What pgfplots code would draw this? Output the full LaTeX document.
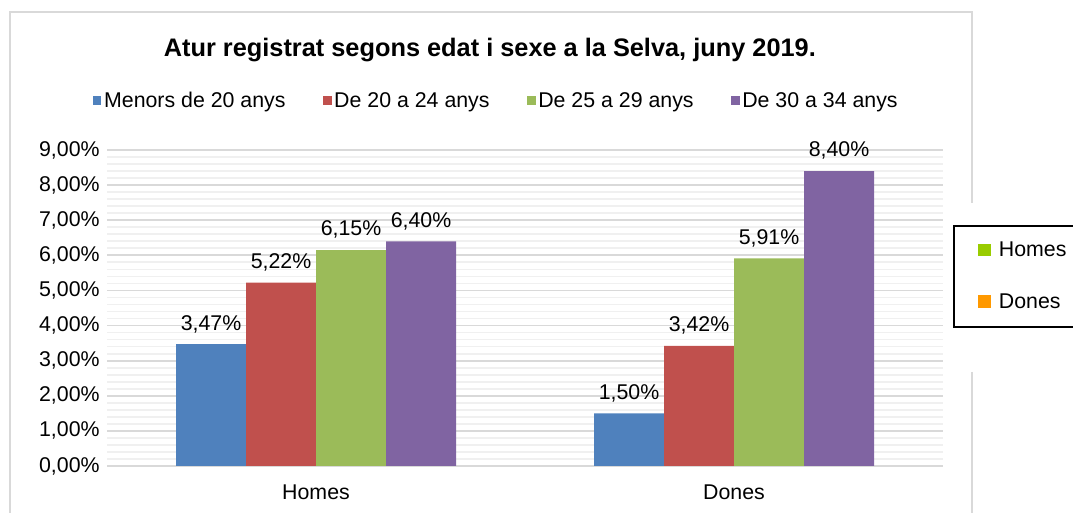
\documentclass[border=0pt]{standalone}
\usepackage{fontspec}
\setmainfont{Liberation Sans}
\usepackage{pgfplots}
\pgfplotsset{compat=1.18}
\definecolor{cBlue}{HTML}{4F81BD}
\definecolor{cRed}{HTML}{C0504D}
\definecolor{cGreen}{HTML}{9BBB59}
\definecolor{cPurple}{HTML}{8064A2}
\definecolor{cLime}{RGB}{153,204,0}
\definecolor{cOrange}{RGB}{255,153,0}
\definecolor{gMaj}{RGB}{217,217,217}
\definecolor{gMin}{RGB}{240,240,240}

\begin{document}
\begin{tikzpicture}
\begin{axis}[
    name=ax,
    scale only axis, width=627pt, height=237pt,
    ybar=0pt, bar width=52.5pt,
    xmin=-0.5, xmax=1.5, ymin=0, ymax=9,
    xtick={0,1}, xticklabels={Homes,Dones},
    ytick={0,1,...,9}, minor y tick num=4,
    ymajorgrids, yminorgrids,
    major grid style={gMaj, line width=1.3pt},
    minor grid style={gMin, line width=1.3pt},
    axis line style={draw=none},
    tick style={draw=none},
    tick label style={font=\fontsize{16}{19}\selectfont},
    /pgf/number format/assume math mode=true,
    yticklabel={\pgfmathprintnumber[fixed,fixed zerofill,precision=2,use comma]{\tick}\%},
    yticklabel style={xshift=-2pt},
    xticklabel style={yshift=-6pt},
    nodes near coords={\pgfmathprintnumber[fixed,fixed zerofill,precision=2,use comma,assume math mode=true]{\pgfplotspointmeta}\%},
    every node near coord/.append style={font=\fontsize{16}{19}\selectfont, text=black, anchor=south, yshift=5pt},
    legend columns=4,
    legend style={at={(0.466,1.155)}, anchor=center, draw=none, fill=none,
        font=\fontsize{16}{19}\selectfont,
        /tikz/every even column/.append style={column sep=26pt}},
    legend image code/.code={\fill[#1] (0pt,-3pt) rectangle (6.5pt,3.5pt);},
    title={\bfseries\fontsize{19}{22}\selectfont Atur registrat segons edat i sexe a la Selva, juny 2019.},
    title style={at={(0.458,1)}, anchor=center, yshift=69pt},
]
\addplot[fill=cBlue, draw=none] coordinates {(0,3.47) (1,1.50)};
\addplot[fill=cRed, draw=none] coordinates {(0,5.22) (1,3.42)};
\addplot[fill=cGreen, draw=none] coordinates {(0,6.15) (1,5.91)};
\addplot[fill=cPurple, draw=none] coordinates {(0,6.40) (1,8.40)};
\legend{Menors de 20 anys, De 20 a 24 anys, De 25 a 29 anys, De 30 a 34 anys}
\end{axis}

% page coordinates: origin at bottom-left of the page, 1px = 0.75pt
\begin{scope}[shift={(ax.south west)}, xshift=-80.25pt, yshift=-35.25pt, x=1pt, y=1pt]
% chart area frame (runs off the bottom)
\draw[line width=1.4pt, gMaj] (7.5,0) -- (7.5,375.75) -- (729,375.75) -- (729,232.5);
\draw[line width=1.4pt, gMaj] (729,105.75) -- (729,0);
% second legend box on the right (runs off the right edge)
\draw[line width=1.3pt, black] (804.75,139.5) -- (715.5,139.5) -- (715.5,215.25) -- (804.75,215.25);
\fill[cLime] (733.5,192.5) rectangle (743,202);
\node[anchor=west, font=\fontsize{16}{19}\selectfont, inner sep=0pt] at (749,197.5) {Homes};
\fill[cOrange] (733.5,154) rectangle (743,163.5);
\node[anchor=west, font=\fontsize{16}{19}\selectfont, inner sep=0pt] at (749,159) {Dones};
\pgfresetboundingbox
\path[use as bounding box] (0,0) rectangle (804.75,384.75);
\end{scope}
\end{tikzpicture}
\end{document}
